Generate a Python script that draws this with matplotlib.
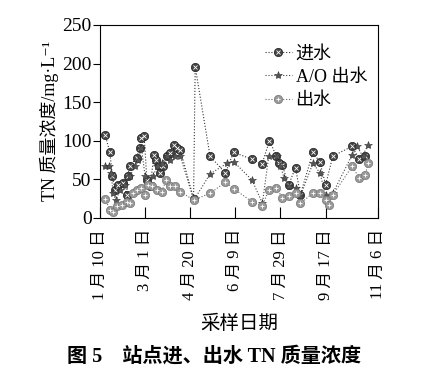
import matplotlib.pyplot as plt
from matplotlib.legend_handler import HandlerTuple

plt.rcParams['font.family'] = ['Liberation Serif', 'Noto Sans CJK SC', 'DejaVu Serif']

# Days counted from 1月10日
tick_days = [0, 50, 100, 150, 200, 250, 308]
tick_labels = ['1 月 10 日', '3 月 1 日', '4 月 20 日', '6 月 9 日', '7 月 29 日', '9 月 17 日', '11 月 6 日']

# 进水
in_days = [5.6, 11, 13.7, 16.7, 20, 26, 29.6, 30.7, 33, 40.7, 44, 45.5, 49, 52, 55.5,
           60, 62, 65, 66.7, 69.6, 74, 77.8, 81.5, 85, 89, 103.7, 105.5, 122, 139, 148,
           168.5, 179.6, 187.8, 195.5, 198, 202, 209, 216.7, 222, 236, 243.7, 250, 258,
           279.6, 287, 294]
in_vals = [108, 85, 54, 36, 43, 45, 30, 54, 67, 78, 91, 104, 106, 49, 41,
           82, 75, 67, 58, 67, 80, 84, 95, 91, 88, 25, 196, 80, 58, 85,
           76, 70, 100, 80, 71, 68, 43, 65, 30, 85, 72, 43, 80,
           93, 76, 80]

# A/O 出水
ao_days = [5.6, 10, 12.6, 14.4, 18, 22, 28, 33, 38.9, 42.6, 46, 50, 55.5, 59, 63,
           68.5, 74, 77.8, 83, 89, 104, 122, 141, 148, 168.5, 180, 187, 196, 200,
           204, 209, 216.7, 222, 236, 243.7, 250, 258, 279.6, 285, 291, 297]
ao_vals = [67, 67, 58, 32, 23, 36, 43, 54, 67, 75, 91, 54, 45, 54, 67,
           71, 80, 75, 80, 80, 23, 57, 71, 73, 49, 19, 80, 80, 67,
           52, 41, 39, 28, 71, 58, 30, 32, 82, 93, 80, 95]

# 出水
out_days = [5.6, 11, 14.8, 18.5, 24, 29.6, 33, 37, 40.7, 46, 50, 53.7, 57.4, 63,
            68.5, 73.3, 77.8, 83, 89, 104, 122, 139, 148, 168.5, 180, 187, 195.5,
            202, 209, 216.7, 222, 236, 243.7, 250, 253.7, 258, 279.6, 287, 294, 297]
out_vals = [25, 10, 8, 15, 17, 20, 19, 32, 36, 39, 30, 43, 41, 36,
            34, 49, 41, 41, 34, 23, 32, 46, 38, 21, 16, 36, 39,
            26, 28, 32, 19, 32, 32, 23, 17, 30, 67, 52, 56, 71]

fig = plt.figure(figsize=(4.29, 3.83), dpi=100)
ax = fig.add_axes([0.233, 0.431, 0.648, 0.504])

# series lines with patterned markers (circle + white cross on top)
l1, = ax.plot(in_days, in_vals, ':', color='#333333', lw=0.8, marker='o', ms=6,
              mfc='#444444', mec='#222222', mew=0.5)
o1, = ax.plot(in_days, in_vals, ls='none', marker='x', ms=3.5, mec='white', mew=0.6)
l2, = ax.plot(ao_days, ao_vals, ':', color='#444444', lw=0.8, marker='*', ms=6,
              mfc='#555555', mec='#333333', mew=0.4)
l3, = ax.plot(out_days, out_vals, ':', color='#666666', lw=0.8, marker='o', ms=6,
              mfc='#9a9a9a', mec='#777777', mew=0.5)
o3, = ax.plot(out_days, out_vals, ls='none', marker='+', ms=3.5, mec='white', mew=0.6)

ax.set_xlim(0, 308)
ax.set_ylim(0, 250)
ax.set_yticks(range(0, 251, 50))
ax.set_xticks(tick_days)
ax.set_xticklabels(tick_labels, rotation=90, fontsize=12)
ax.tick_params(axis='y', direction='out', length=5, width=0.8, labelsize=14, pad=1)
ax.tick_params(axis='x', direction='in', length=8, width=0.8, pad=8)
for s in ax.spines.values():
    s.set_linewidth(0.8)

ax.set_ylabel('TN 质量浓度/mg·L⁻¹', fontsize=13, labelpad=2)
ax.set_xlabel('采样日期', fontsize=14, labelpad=11)

ax.legend([(l1, o1), (l2,), (l3, o3)], ['进水', 'A/O 出水', '出水'],
          handler_map={tuple: HandlerTuple(ndivide=1)}, frameon=False,
          loc='upper right', bbox_to_anchor=(1.0, 0.95), fontsize=13,
          handlelength=1.5, handletextpad=0.2, labelspacing=0.35, borderaxespad=0.2)

fig.text(0.5, 0.068, '图 5    站点进、出水 TN 质量浓度', ha='center', va='center',
         fontsize=14.5, fontweight='bold')

fig.savefig('out.png', dpi=100, facecolor='white')
